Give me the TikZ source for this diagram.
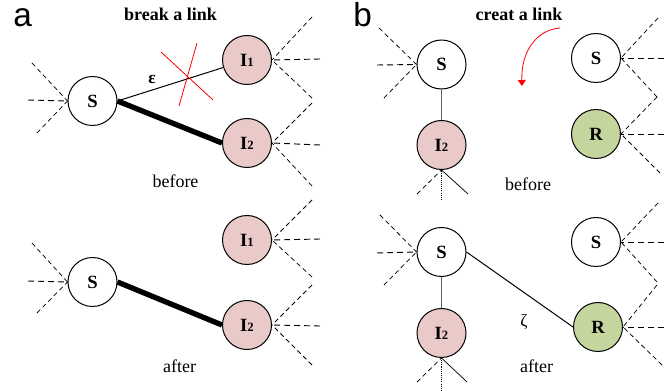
\documentclass[tikz,border=0pt]{standalone}
\usepackage{fontspec}
\setmainfont{Liberation Serif}
\newfontfamily\arialfont{Liberation Sans}
\usetikzlibrary{arrows.meta}
\definecolor{pinkfill}{RGB}{233,202,200}
\definecolor{greenfill}{RGB}{196,214,158}
\definecolor{edgegray}{RGB}{95,95,95}
\tikzset{
  nd/.style={circle,draw=black,line width=0.75pt,minimum size=36.75pt,inner sep=0pt,
    font=\fontsize{14pt}{16pt}\selectfont\bfseries},
  snode/.style={nd,fill=white},
  inode/.style={nd,fill=pinkfill},
  rnode/.style={nd,fill=greenfill},
  dh/.style={line width=0.7pt,dash pattern=on 4.5pt off 3pt},
  dd/.style={line width=0.55pt,dash pattern=on 3.5pt off 2.5pt},
  dotv/.style={line width=0.6pt,dash pattern=on 0.8pt off 0.8pt},
  thinedge/.style={line width=0.75pt},
  thickedge/.style={line width=4pt},
  grayedge/.style={draw=edgegray,line width=1.1pt},
  txt/.style={font=\fontsize{13.5pt}{16pt}\selectfont,anchor=base},
  ttl/.style={font=\fontsize{13.5pt}{16pt}\selectfont\bfseries,anchor=base},
  plabel/.style={font=\arialfont\fontsize{25pt}{30pt}\selectfont,anchor=base west,inner sep=0pt},
}
\newcommand{\Ione}{I{\fontsize{9.5pt}{10pt}\selectfont 1}}
\newcommand{\Itwo}{I{\fontsize{9.5pt}{10pt}\selectfont 2}}
\begin{document}
\begin{tikzpicture}[x=0.75pt,y=-0.75pt]
\useasboundingbox (0,0) rectangle (664,391);
% ---------- panel a ----------
\node[plabel] (la) at (13,27) {a};
\node[ttl] (ta) at (170.5,21) {break a link};
% before
\node[snode] (Sa1) at (92.5,101) {S};
\node[inode] (I1a1) at (247,60) {\Ione};
\node[inode] (I2a1) at (247,143) {\Itwo};
\draw[thinedge] (Sa1.east) -- (I1a1);
\draw[thickedge] (Sa1.east) -- (I2a1.west);
\node[font=\fontsize{13pt}{15pt}\selectfont\bfseries] (eps) at (152,80) {ε};
\draw[red,line width=0.6pt] (161,52) -- (213,100);
\draw[red,line width=0.6pt] (197,43) -- (179,106);
\coordinate (a1) at (28,100); \coordinate (a2) at (32,63); \coordinate (a3) at (37,133);
\draw[dh] (a1) -- (Sa1.west);
\draw[dd] (a2) -- (Sa1.west);
\draw[dd] (a3) -- (Sa1.west);
\coordinate (a4) at (320,59); \coordinate (a5) at (312,17); \coordinate (a6) at (312,98);
\draw[dh] (a4) -- (I1a1.east);
\draw[dd] (a5) -- (I1a1.east);
\draw[dd] (a6) -- (I1a1.east);
\coordinate (a7) at (320,145); \coordinate (a8) at (312,103); \coordinate (a9) at (312,186);
\draw[dh] (a7) -- (I2a1.east);
\draw[dd] (a8) -- (I2a1.east);
\draw[dd] (a9) -- (I2a1.east);
\node[txt] (bfa) at (175.5,188) {before};
% after
\node[snode] (Sa2) at (92.5,282) {S};
\node[inode] (I1a2) at (247,240) {\Ione};
\node[inode] (I2a2) at (247,325) {\Itwo};
\draw[thickedge] (Sa2.east) -- (I2a2.west);
\coordinate (b1) at (28,281); \coordinate (b2) at (32,243); \coordinate (b3) at (37,313);
\draw[dh] (b1) -- (Sa2.west);
\draw[dd] (b2) -- (Sa2.west);
\draw[dd] (b3) -- (Sa2.west);
\coordinate (b4) at (320,239); \coordinate (b5) at (312,200); \coordinate (b6) at (312,277);
\draw[dh] (b4) -- (I1a2.east);
\draw[dd] (b5) -- (I1a2.east);
\draw[dd] (b6) -- (I1a2.east);
\coordinate (b7) at (320,326); \coordinate (b8) at (312,285); \coordinate (b9) at (312,365);
\draw[dh] (b7) -- (I2a2.east);
\draw[dd] (b8) -- (I2a2.east);
\draw[dd] (b9) -- (I2a2.east);
\node[txt] (afa) at (179.5,373) {after};
% ---------- panel b ----------
\node[plabel] (lb) at (353,27) {b};
\node[ttl] (tb) at (519,21) {creat a link};
\coordinate (rs) at (560,28); \coordinate (re) at (522,86);
\draw[red,line width=0.6pt,-{Triangle[length=4.5pt,width=6pt]}] (rs) .. controls (536,30) and (521,52) .. (re);
% before
\node[snode] (Sb1) at (441.5,64.5) {S};
\node[inode] (I2b1) at (441.5,145) {\Itwo};
\node[snode] (Sb1r) at (596,58) {S};
\node[rnode] (Rb1) at (596,134) {R};
\draw[grayedge] (Sb1) -- (I2b1);
\coordinate (c1) at (377,65); \coordinate (c2) at (379,28); \coordinate (c3) at (384,98);
\draw[dh] (c1) -- (Sb1.west);
\draw[dd] (c2) -- (Sb1.west);
\draw[dd] (c3) -- (Sb1.west);
\coordinate (c4) at (417,194); \coordinate (c5) at (441.5,200); \coordinate (c6) at (468,194);
\draw[dd] (c4) -- (I2b1.south);
\draw[dotv] (c5) -- (I2b1.south);
\draw[line width=0.55pt] (c6) -- (I2b1.south);
\coordinate (c7) at (664,58); \coordinate (c8) at (658,18); \coordinate (c9) at (657,97);
\draw[dh] (c7) -- (Sb1r.east);
\draw[dd] (c8) -- (Sb1r.east);
\draw[dd] (c9) -- (Sb1r.east);
\coordinate (c10) at (664,134); \coordinate (c12) at (660,173);
\draw[dh] (c10) -- (Rb1.east);
\draw[dd] (c9) -- (Rb1.east);
\draw[dd] (c12) -- (Rb1.east);
\node[txt] (bfb) at (528,191) {before};
% after
\node[snode] (Sb2) at (441.5,252) {S};
\node[inode] (I2b2) at (441.5,333) {\Itwo};
\node[snode] (Sb2r) at (596,242) {S};
\node[rnode] (Rb2) at (598,327) {R};
\draw[grayedge] (Sb2) -- (I2b2);
\draw[thinedge] (Sb2.east) -- (Rb2.west);
\node[font=\fontsize{13pt}{15pt}\selectfont] (zeta) at (524,322) {ζ};
\coordinate (d1) at (377,253); \coordinate (d2) at (380,215); \coordinate (d3) at (384,285);
\draw[dh] (d1) -- (Sb2.west);
\draw[dd] (d2) -- (Sb2.west);
\draw[dd] (d3) -- (Sb2.west);
\coordinate (d4) at (417,382); \coordinate (d5) at (441.5,391); \coordinate (d6) at (467,382);
\draw[dd] (d4) -- (I2b2.south);
\draw[dotv] (d5) -- (I2b2.south);
\draw[line width=0.55pt] (d6) -- (I2b2.south);
\coordinate (d7) at (664,242); \coordinate (d8) at (658,203); \coordinate (d9) at (657,282);
\draw[dh] (d7) -- (Sb2r.east);
\draw[dd] (d8) -- (Sb2r.east);
\draw[dd] (d9) -- (Sb2r.east);
\coordinate (d10) at (664,327); \coordinate (d11) at (657,285); \coordinate (d12) at (662,365);
\draw[dh] (d10) -- (Rb2.east);
\draw[dd] (d11) -- (Rb2.east);
\draw[dd] (d12) -- (Rb2.east);
\node[txt] (afb) at (536.5,373) {after};
\end{tikzpicture}
\end{document}
